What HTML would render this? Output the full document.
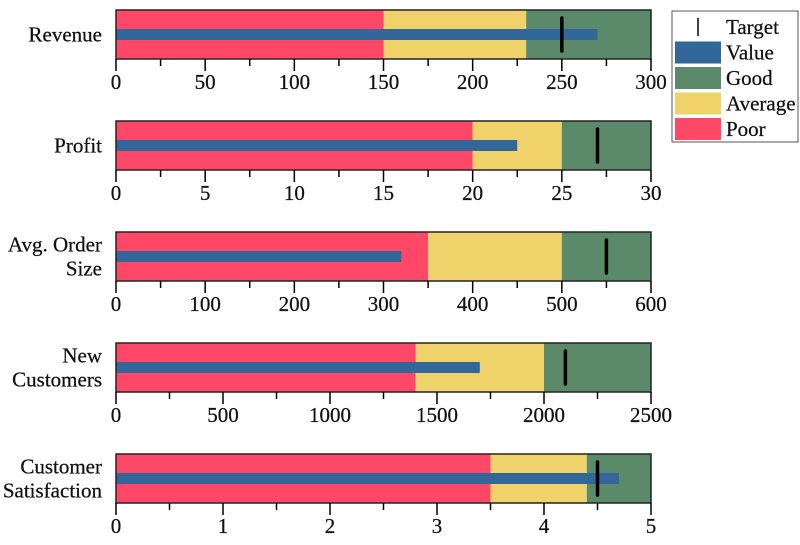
<!DOCTYPE html>
<html><head><meta charset="utf-8"><style>
html,body{margin:0;padding:0;background:#fff;width:800px;height:545px;overflow:hidden}
svg text{font-family:"Liberation Serif","DejaVu Serif",serif;font-size:21px;fill:#111;stroke:#111;stroke-width:0.25px}
</style></head><body>
<svg id="chart" width="800" height="545" xmlns="http://www.w3.org/2000/svg"></svg>
<script>
const metrics = ["Revenue","Profit","Avg. Order Size","New Customers","Customer Satisfaction"];
const labelLines = [["Revenue"],["Profit"],["Avg. Order","Size"],["New","Customers"],["Customer","Satisfaction"]];
const poorMax = [150, 20, 350, 1400, 3.5];
const avgMax = [230, 25, 500, 2000, 4.4];
const goodMax = [300, 30, 600, 2500, 5];
const values = [270, 22.5, 320, 1700, 4.7];
const targets = [250, 27, 550, 2100, 4.5];
const tickLabels = [[0,50,100,150,200,250,300],[0,5,10,15,20,25,30],[0,100,200,300,400,500,600],[0,500,1000,1500,2000,2500],[0,1,2,3,4,5]];

const svg = document.getElementById('chart');
const NS = 'http://www.w3.org/2000/svg';
function mk(tag, attrs, parent){const e=document.createElementNS(NS,tag);for(const k in attrs)e.setAttribute(k,attrs[k]);(parent||svg).appendChild(e);return e;}
const X0=116, X1=651, H=49, rowTop=[10,121,232,343,454];
const C={poor:'#ff4867',avg:'#f0d26a',good:'#5a8a6a',val:'#336699'};

metrics.forEach((m,i)=>{
  const g=mk('g',{});
  
  
  const ticks=tickLabels[i], max=ticks[ticks.length-1];
  const sx=v=>X0+(v/max)*(X1-X0);
  const y=rowTop[i];
  const bands=[[0,poorMax[i],C.poor,'poor-band'],[poorMax[i],avgMax[i],C.avg,'average-band'],[avgMax[i],goodMax[i],C.good,'good-band']];
  bands.forEach(b=>{
    const r=mk('rect',{x:sx(b[0]),y:y,width:sx(b[1])-sx(b[0]),height:H,fill:b[2]},g);
    
    
  });
  const vb=mk('rect',{x:X0,y:y+19,width:sx(values[i])-X0,height:11,fill:C.val},g);
  
  
  const tl=mk('line',{x1:sx(targets[i]),x2:sx(targets[i]),y1:y+8,y2:y+41,stroke:'#000','stroke-width':3.5,'stroke-linecap':'round'},g);
  
  
  mk('rect',{x:X0,y:y,width:X1-X0,height:H,fill:'none',stroke:'#222','stroke-width':1.5},g);
  for(let k=0;k<ticks.length;k++){
    const tx=sx(ticks[k]);
    mk('line',{x1:tx,x2:tx,y1:y+H,y2:y+H+12,stroke:'#000','stroke-width':1.5},g);
    const t=mk('text',{x:tx,y:y+H+30,'text-anchor':'middle'},g);
    t.textContent=ticks[k];
    
    
    if(k<ticks.length-1){
      const mx=sx((ticks[k]+ticks[k+1])/2);
      mk('line',{x1:mx,x2:mx,y1:y+H,y2:y+H+7,stroke:'#000','stroke-width':1.5},g);
    }
  }
  const lines=labelLines[i];
  lines.forEach((ln,j)=>{
    const cy=y+H/2+7+(j-(lines.length-1)/2)*24;
    const t=mk('text',{x:102,y:cy,'text-anchor':'end'},g);
    t.textContent=ln;
    
    
  });
});

const lg=mk('g',{});


mk('rect',{x:672,y:11,width:126,height:131,fill:'#fff',stroke:'#555','stroke-width':1},lg);
const items=[['Target',null],['Value',C.val],['Good',C.good],['Average',C.avg],['Poor',C.poor]];
items.forEach((it,i)=>{
  const cy=27+i*25.5;
  if(it[1]) mk('rect',{x:675,y:cy-11,width:46,height:22,fill:it[1]},lg);
  else mk('line',{x1:698,x2:698,y1:cy-9,y2:cy+9,stroke:'#000','stroke-width':1.5},lg);
  const t=mk('text',{x:726,y:cy+7},lg);
  t.textContent=it[0];
  
  
});
</script>
</body></html>
